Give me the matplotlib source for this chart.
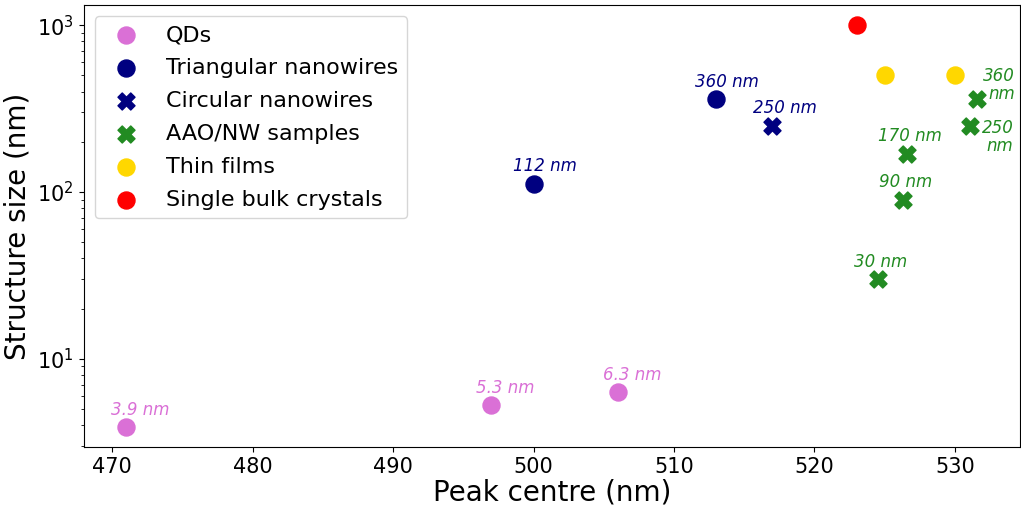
import matplotlib
matplotlib.use("Agg")
import matplotlib.pyplot as plt

# peak centre (nm) vs structure size (nm) for each sample family
qd_peak = [471, 497, 506]
qd_size = [3.9, 5.3, 6.3]

tri_peak = [500, 513]
tri_size = [112, 360]

circ_peak = [517]
circ_size = [250]

aao_peak = [524.5, 526.3, 526.6, 531.1, 531.6]
aao_size = [30, 90, 170, 250, 360]

film_peak = [525, 530]
film_size = [500, 500]

bulk_peak = [523]
bulk_size = [1000]

fig, ax = plt.subplots(figsize=(10.21, 5.07), dpi=100)
fig.subplots_adjust(left=0.082, right=0.999, top=0.99, bottom=0.118)

ms = 150
ax.scatter(qd_peak, qd_size, s=ms, color="orchid", marker="o", label="QDs")
ax.scatter(tri_peak, tri_size, s=ms, color="navy", marker="o", label="Triangular nanowires")
ax.scatter(circ_peak, circ_size, s=ms, color="navy", marker="X", label="Circular nanowires")
ax.scatter(aao_peak, aao_size, s=ms, color="forestgreen", marker="X", label="AAO/NW samples")
ax.scatter(film_peak, film_size, s=ms, color="gold", marker="o", label="Thin films")
ax.scatter(bulk_peak, bulk_size, s=ms, color="red", marker="o", label="Single bulk crystals")

ax.set_yscale("log")


def label_above(xs, ys, color, dx):
    for x, y in zip(xs, ys):
        txt = f"{y:g} nm"
        ax.annotate(txt, (x, y), xytext=(dx, 6), textcoords="offset points",
                    ha="center", va="bottom", color=color, fontsize=12, style="italic")


label_above(qd_peak, qd_size, "orchid", 10)
label_above(tri_peak, tri_size, "navy", 8)
label_above(circ_peak, circ_size, "navy", 9)
label_above(aao_peak[:3], aao_size[:3], "forestgreen", 2)

# the two rightmost AAO points get wrapped labels to stay inside the axes
ax.annotate(f"{aao_size[4]:g}\nnm", (aao_peak[4], aao_size[4]), xytext=(27, -3),
            textcoords="offset points", ha="right", va="bottom", linespacing=1.0,
            color="forestgreen", fontsize=12, style="italic")
ax.annotate(f"{aao_size[3]:g}\nnm", (aao_peak[3], aao_size[3]), xytext=(31, 5),
            textcoords="offset points", ha="right", va="top", linespacing=1.0,
            color="forestgreen", fontsize=12, style="italic")

ax.set_xlabel("Peak centre (nm)", fontsize=20, labelpad=1)
ax.set_ylabel("Structure size (nm)", fontsize=20)
ax.tick_params(labelsize=15)
ax.legend(loc="upper left", fontsize=16, labelspacing=0.58)

fig.savefig("out.png", dpi=100)
